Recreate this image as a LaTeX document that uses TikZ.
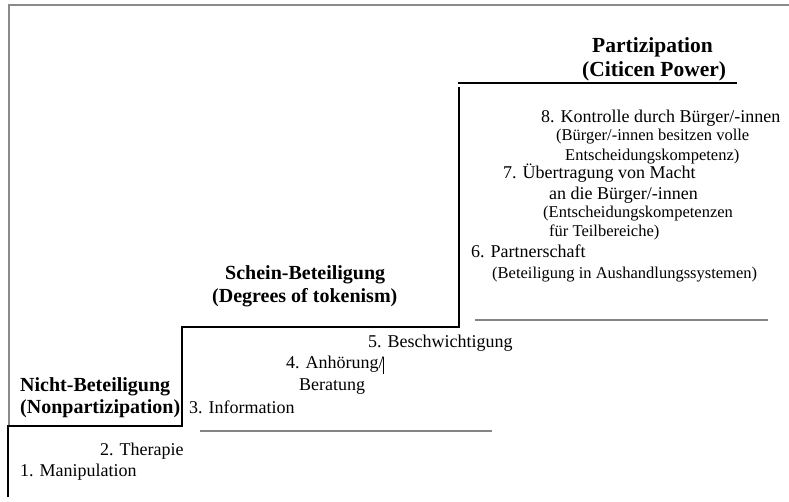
\documentclass[tikz,border=0pt]{standalone}
\usepackage{fontspec}
\setmainfont{Liberation Serif}
\definecolor{framegray}{HTML}{8A8A8A}
\definecolor{linegray}{HTML}{858585}
\tikzset{
  main/.style={anchor=base west, inner sep=0pt, font=\fontsize{18}{21}\selectfont},
  small/.style={anchor=base west, inner sep=0pt, font=\fontsize{16.5}{19}\selectfont},
  head/.style={anchor=base west, inner sep=0pt, font=\fontsize{20}{24}\selectfont\bfseries},
  bighead/.style={anchor=base west, inner sep=0pt, font=\fontsize{21.5}{25}\selectfont\bfseries},
  stair/.style={line width=2pt, black},
  frameline/.style={line width=1.2pt, framegray},
  rule/.style={line width=1.4pt, linegray}
}
\begin{document}
\begin{tikzpicture}[x=1pt,y=-1pt]
\useasboundingbox (0,0) rectangle (789,502);
% frame
\coordinate (f1) at (9,425);
\coordinate (f2) at (9,5);
\coordinate (f3) at (789,5);
\draw[frameline] (f1) -- (f2) -- (f3);
% staircase
\coordinate (s1) at (8,497);
\coordinate (s2) at (8,426);
\coordinate (s3) at (182,426);
\coordinate (s4) at (182,327);
\coordinate (s5) at (459,327);
\coordinate (s6) at (459,87);
\draw[stair] (s1) -- (s2) -- (s3) -- (s4) -- (s5) -- (s6);
\coordinate (t1) at (458,83);
\coordinate (t2) at (737,83);
\draw[line width=2.6pt] (t1) -- (t2);
% headings
\node[bighead] (h3a) at (592,53) {Partizipation};
\node[bighead] (h3b) at (582,77) {(Citicen Power)};
\node[head] (h2a) at (225,280) {Schein-Beteiligung};
\node[head] (h2b) at (212,303) {(Degrees of tokenism)};
\node[head] (h1a) at (20,391) {Nicht-Beteiligung};
\node[head] (h1b) at (20,413) {(Nonpartizipation)};
% upper level
\node[main] (l8) at (541,123) {8. Kontrolle durch Bürger/-innen};
\node[small] (l8a) at (556,141) {(Bürger/-innen besitzen volle};
\node[small] (l8b) at (565,161) {Entscheidungskompetenz)};
\node[main] (l7) at (503,179) {7. Übertragung von Macht};
\node[main] (l7a) at (549,200) {an die Bürger/-innen};
\node[small] (l7b) at (543,218) {(Entscheidungskompetenzen};
\node[small] (l7c) at (549,237) {für Teilbereiche)};
\node[main] (l6) at (471,258) {6. Partnerschaft};
\node[small] (l6a) at (492,279) {(Beteiligung in Aushandlungssystemen)};
\coordinate (r1a) at (475,320);
\coordinate (r1b) at (768,320);
\draw[rule] (r1a) -- (r1b);
% middle level
\node[main] (l5) at (368,347) {5. Beschwichtigung};
\node[main] (l4) at (286,368) {4. Anhörung/};
\coordinate (c1) at (383.5,357);
\coordinate (c2) at (383.5,374);
\draw[line width=0.8pt] (c1) -- (c2);
\node[main] (l4a) at (299,390) {Beratung};
\node[main] (l3) at (189,413) {3. Information};
\coordinate (r2a) at (200,431);
\coordinate (r2b) at (492,431);
\draw[rule] (r2a) -- (r2b);
% lower level
\node[main] (l2) at (100,455) {2. Therapie};
\node[main] (l1) at (20,476) {1. Manipulation};
\end{tikzpicture}
\end{document}
